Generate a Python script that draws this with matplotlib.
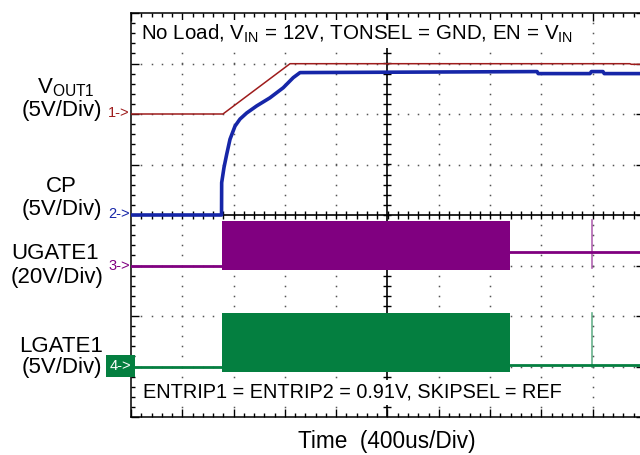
import numpy as np
import matplotlib
matplotlib.use('Agg')
import matplotlib.pyplot as plt

plt.rcParams['font.family'] = ['Liberation Sans', 'DejaVu Sans']
plt.rcParams['mathtext.fontset'] = 'custom'
plt.rcParams['mathtext.rm'] = 'Liberation Sans'
plt.rcParams['mathtext.it'] = 'Liberation Sans:italic'
plt.rcParams['mathtext.bf'] = 'Liberation Sans:bold'

# ---------------- data ----------------
TIME_PER_DIV = 400          # us / div
N_XDIV, N_YDIV = 10, 8

ch_labels = [r"V$_{\mathregular{OUT1}}$", "CP", "UGATE1", "LGATE1"]
ch_scale_labels = ["(5V/Div)", "(5V/Div)", "(20V/Div)", "(5V/Div)"]
ch_markers = ["1->", "2->", "3->", "4->"]
ch_offsets = [6, 4, 3, 1]          # div from bottom (ground marker)
ch_scales = [5, 5, 20, 5]          # V / div
ch_colors = ["#9E1C1C", "#1626A8", "#800080", "#047F40"]

# VOUT1 (V)
vout_t = [0, 717, 1240, 3890, 3900, 4000]
vout_v = [0, 0, 4.98, 4.98, 4.92, 4.92]

# CP (V)
cp_t = [0, 706, 707, 725, 746, 772, 811, 850, 902, 980, 1083, 1187, 1265,
        1318, 3166, 3175, 3579, 3590, 3680, 3690, 4000]
cp_v = [0, 0, 3.2, 4.7, 6.0, 7.5, 8.8, 9.5, 10.1, 10.8, 11.6, 12.6, 13.6,
        14.1, 14.2, 14.0, 14.0, 14.2, 14.2, 14.0, 14.0]

# UGATE1 (V): idle, switching burst (t0, t1, low, high), after level, spike
ugate_idle_t = [0, 710]
ugate_idle_v = [0, 0]
ugate_burst = [710, 2955, -1.6, 17.8]
ugate_after_t = [2955, 4000]
ugate_after_v = [5.2, 5.2]
ugate_spike = [3592, -0.8, 17.9]

# LGATE1 (V)
lgate_idle_t = [0, 710]
lgate_idle_v = [0, 0]
lgate_burst = [710, 2955, -0.5, 5.25]
lgate_after_t = [2955, 4000]
lgate_after_v = [0.1, 0.1]
lgate_spike = [3592, 0.0, 5.25]

title_text = (r"No Load, V$_{\mathregular{IN}}$ = 12V, TONSEL = GND, "
              r"EN = V$_{\mathregular{IN}}$")
bottom_text = "ENTRIP1 = ENTRIP2 = 0.91V, SKIPSEL = REF"
xlabel_text = "Time  (400us/Div)"

# ---------------- figure ----------------
W, H = 640, 455
fig = plt.figure(figsize=(W / 100, H / 100), dpi=100)
ax = fig.add_axes([131 / W, (H - 417) / H, 513 / W, 404 / H])
ax.set_xlim(0, N_XDIV)
ax.set_ylim(0, N_YDIV)


def tx(t):
    return np.asarray(t, float) / TIME_PER_DIV


def ty(v, ch):
    return ch_offsets[ch] + np.asarray(v, float) / ch_scales[ch]


# border ticks
ax.set_xticks(np.arange(0, N_XDIV + 1, 1))
ax.set_xticks(np.arange(0, N_XDIV + 0.01, 0.2), minor=True)
ax.set_yticks(np.arange(0, N_YDIV + 1, 1))
ax.set_yticks(np.arange(0, N_YDIV + 0.01, 0.2), minor=True)
ax.tick_params(which='both', direction='in', top=True, right=True,
               labelbottom=False, labelleft=False, color='black', width=1.0)
ax.tick_params(which='major', length=6)
ax.tick_params(which='minor', length=3.2)
for s in ax.spines.values():
    s.set_linewidth(1.1)

# dotted grid
dot_kw = dict(ls='none', marker='s', ms=1.1, color='#555555', mew=0, zorder=1)
minor = np.arange(0.2, N_XDIV, 0.2)
minory = np.arange(0.2, N_YDIV, 0.2)
for gx in range(1, N_XDIV):
    if gx == 5:
        continue
    ax.plot(np.full_like(minory, gx), minory, **dot_kw)
for gy in range(1, N_YDIV):
    if gy == 4:
        continue
    ax.plot(minor, np.full_like(minor, gy), **dot_kw)

# center cross with ticks
ax.axhline(4, color='black', lw=1.2, zorder=2)
ax.axvline(5, color='black', lw=1.2, zorder=2)
ax.plot(minor, np.full_like(minor, 4), ls='none', marker='|', ms=6,
        mew=1.0, color='black', zorder=2)
ax.plot(np.full_like(minory, 5), minory, ls='none', marker='_', ms=6,
        mew=1.0, color='black', zorder=2)

# traces
ax.plot(tx(vout_t), ty(vout_v, 0), color=ch_colors[0], lw=1.1, zorder=5)
ax.plot(tx(cp_t), ty(cp_v, 1), color=ch_colors[1], lw=2.6, zorder=5,
        solid_joinstyle='round')

for ch, idle_t, idle_v, burst, after_t, after_v, spike in [
        (2, ugate_idle_t, ugate_idle_v, ugate_burst, ugate_after_t,
         ugate_after_v, ugate_spike),
        (3, lgate_idle_t, lgate_idle_v, lgate_burst, lgate_after_t,
         lgate_after_v, lgate_spike)]:
    c = ch_colors[ch]
    ax.plot(tx(idle_t), ty(idle_v, ch), color=c, lw=2.0, zorder=4)
    ax.fill_between(tx(burst[:2]), ty([burst[2]] * 2, ch),
                    ty([burst[3]] * 2, ch), color=c, lw=0, zorder=4)
    ax.plot(tx(after_t), ty(after_v, ch), color=c, lw=2.0, zorder=4)
    ax.plot(tx([spike[0]] * 2), ty(spike[1:], ch), color=c, lw=1.2,
            alpha=0.6, zorder=4)


# ---------------- texts ----------------
def ftext(x, y, s, **kw):
    return fig.text(x / W, 1 - y / H, s, **kw)


white_box = dict(boxstyle='square,pad=0.15', fc='white', ec='none')
ftext(141, 40, title_text, fontsize=14.8, ha='left', va='baseline',
      bbox=white_box, zorder=10)
ftext(143, 398, bottom_text, fontsize=14.3, ha='left', va='baseline',
      bbox=white_box, zorder=10)
ftext(387, 448, xlabel_text, fontsize=16.3, ha='center', va='baseline')

name_pos = [(66, 93), (61, 192), (55, 259), (61, 352)]
scale_pos = [(62, 116), (62, 215), (57, 283), (62, 373)]
for i in range(4):
    ftext(*name_pos[i], ch_labels[i], fontsize=16, ha='center', va='baseline')
    ftext(*scale_pos[i], ch_scale_labels[i], fontsize=16, ha='center',
          va='baseline')

mark_y = [113, 214, 266, 366]
for i in range(3):
    ftext(108, mark_y[i], ch_markers[i], fontsize=10.5, color=ch_colors[i],
          ha='left', va='center')
ftext(110, mark_y[3], ch_markers[3], fontsize=10.5, color='white',
      ha='left', va='center',
      bbox=dict(boxstyle='square,pad=0.25', fc=ch_colors[3], ec='none'))

fig.savefig('out.png', dpi=100)
